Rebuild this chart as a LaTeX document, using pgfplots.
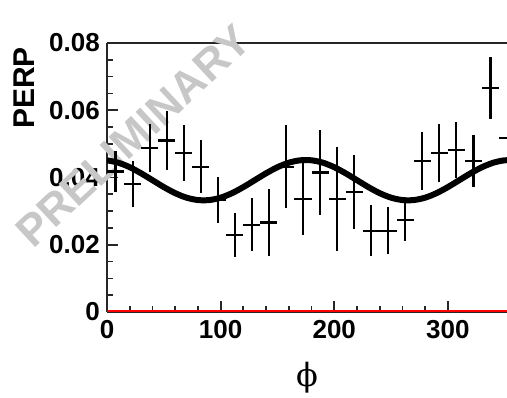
\documentclass[border=0pt]{standalone}
\usepackage{fontspec}
\setmainfont{Liberation Sans}
\newfontfamily\symfont{DejaVu Serif}
\usepackage{pgfplots}
\pgfplotsset{compat=1.18}

\pgfplotstableread{
x y ex ey
7.5 0.0418 7.5 0.0062
22.5 0.0380 7.5 0.0068
37.5 0.0487 7.5 0.0071
52.5 0.0510 7.5 0.0088
67.5 0.0474 7.5 0.0083
82.5 0.0432 7.5 0.0079
97.5 0.0333 7.5 0.0069
112.5 0.0230 7.5 0.0065
127.5 0.0260 7.5 0.0080
142.5 0.0266 7.5 0.0099
157.5 0.0432 7.5 0.0124
172.5 0.0336 7.5 0.0107
187.5 0.0415 7.5 0.0127
202.5 0.0336 7.5 0.0155
217.5 0.0356 7.5 0.0110
232.5 0.0242 7.5 0.0076
247.5 0.0242 7.5 0.0069
262.5 0.0274 7.5 0.0063
277.5 0.0450 7.5 0.0086
292.5 0.0474 7.5 0.0086
307.5 0.0482 7.5 0.0083
322.5 0.0450 7.5 0.0077
337.5 0.0665 7.5 0.0092
352.5 0.0517 7.5 0.0070
}\datatable

\pgfplotstableread{
x y
0 0.04511
10 0.04440
20 0.04306
30 0.04125
40 0.03920
50 0.03715
60 0.03534
70 0.03400
80 0.03329
90 0.03329
100 0.03400
110 0.03534
120 0.03715
130 0.03920
140 0.04125
150 0.04306
160 0.04440
170 0.04511
180 0.04511
190 0.04440
200 0.04306
210 0.04125
220 0.03920
230 0.03715
240 0.03534
250 0.03400
260 0.03329
270 0.03329
280 0.03400
290 0.03534
300 0.03715
310 0.03920
320 0.04125
330 0.04306
340 0.04440
350 0.04511
360 0.04511
}\fittable

\pgfplotsset{
  commonaxis/.style={
    at={(0,0)}, anchor=south west,
    scale only axis, width=300pt, height=201.75pt,
    xmin=0, xmax=352, ymin=0, ymax=0.08,
  }
}

\begin{document}
\begin{tikzpicture}
\useasboundingbox (-80.25pt,-64.5pt) rectangle (300pt,234pt);
\begin{axis}[
  commonaxis,
  axis x line*=box, axis y line*=left,
  axis line style={-, line width=1.3pt, black!85},
  every outer x axis line/.append style={-},
  every outer y axis line/.append style={-},
  xtick={0,100,200,300}, xticklabels={0,100,200,300},
  ytick={0,0.02,0.04,0.06,0.08}, yticklabels={0,0.02,0.04,0.06,0.08},
  minor x tick num=4, minor y tick num=3,
  scaled y ticks=false, scaled x ticks=false,
  tick align=inside,
  xtick pos=bottom, ytick pos=left,
  major tick length=8pt, minor tick length=4.5pt,
  tick style={line width=1.3pt, black!85},
  /pgf/number format/assume math mode=true,
  ticklabel style={font=\fontsize{19.5}{20}\selectfont\bfseries},
  xticklabel style={inner sep=0pt, anchor=north, yshift=-6pt},
  yticklabel style={inner sep=0pt, anchor=east, xshift=-5.25pt},
]
\addplot[red, line width=3pt] coordinates {(0,0) (352,0)};
\end{axis}
\node[rotate=43, text=black!22, font=\fontsize{33}{33}\selectfont\bfseries] at (19.5pt,132pt) {PRELIMINARY};
\begin{axis}[commonaxis, hide axis]
\addplot[black, line width=4.5pt, smooth] table[x=x, y=y] {\fittable};
\addplot[draw=none, mark=none,
  error bars/.cd, x dir=both, x explicit, y dir=both, y explicit,
  error mark=none, error bar style={draw=black, solid, line width=1.6pt}]
  table[x=x, y=y, x error=ex, y error=ey] {\datatable};
\end{axis}
\node[rotate=90, font=\fontsize{22.5}{22.5}\selectfont\bfseries] at (-62.25pt,168pt) {PERP};
\node[font=\fontsize{24}{24}\symfont] at (150pt,-49pt) {ϕ};
\end{tikzpicture}
\end{document}
